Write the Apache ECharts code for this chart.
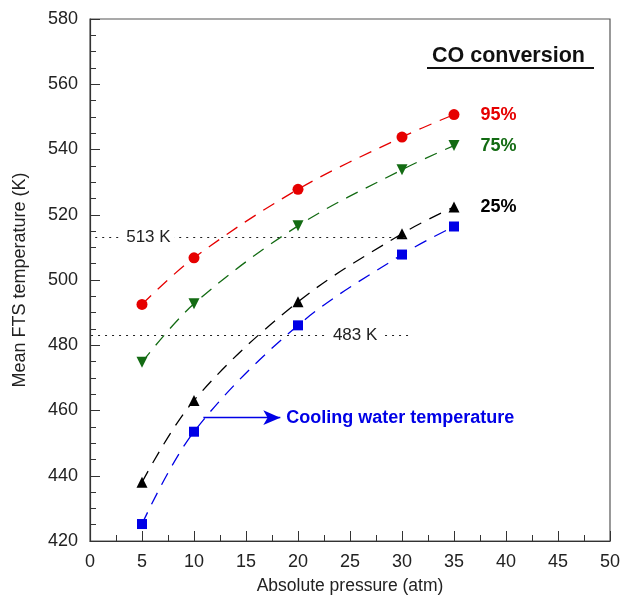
<!DOCTYPE html>
<html>
<head>
<meta charset="utf-8">
<script src="https://cdn.jsdelivr.net/npm/echarts@6/dist/echarts.min.js"></script>
<style>
  html, body { margin: 0; padding: 0; background: #fff; }
  #chart { width: 625px; height: 600px; }
</style>
</head>
<body>
<div id="chart"></div>
<script>
// pressure (atm)
var pressure = [5, 10, 20, 30, 35];
// mean FTS temperature (K) for each CO conversion
var conv95 = [492.5, 506.8, 527.8, 543.8, 550.7];
var conv75 = [474.8, 492.7, 516.6, 533.8, 541.2];
var conv25 = [438.0, 463.1, 493.3, 514.2, 522.4];
var cooling = [425.2, 453.5, 486.1, 507.8, 516.4];
var refTemps = [513, 483];

var chart = echarts.init(document.getElementById('chart'));
var font = 'Liberation Sans, Arial, sans-serif';

function pairs(ys) {
  return pressure.map(function (x, i) { return [x, ys[i]]; });
}

function curve(name, ys, color, symbol, rotate, endText) {
  var data = pairs(ys);
  if (endText) {
    data[data.length - 1] = {
      value: data[data.length - 1],
      label: {
        show: true, position: 'right', distance: 21,
        formatter: endText, color: color,
        fontFamily: font, fontSize: 18, fontWeight: 'bold'
      }
    };
  }
  return {
    name: name,
    type: 'line',
    smooth: 0.35,
    data: data,
    symbol: symbol,
    symbolSize: 11,
    symbolRotate: rotate,
    itemStyle: { color: color },
    lineStyle: { color: color, width: 1.3, type: [13, 9] },
    z: 3
  };
}

var blue = curve('cooling', cooling, '#0000e6', 'rect', 0, null);
blue.symbolSize = 10;
blue.markLine = {
  silent: true,
  symbol: ['none', 'arrow'],
  symbolSize: [11, 17],
  lineStyle: { color: '#0000e6', width: 1.3, type: 'solid' },
  label: {
    show: true, position: 'end', distance: 6,
    formatter: 'Cooling water temperature',
    color: '#0000e6', fontFamily: font, fontSize: 18, fontWeight: 'bold'
  },
  data: [[{ coord: [10.9, 457.8] }, { coord: [18.3, 457.8] }]]
};

var refLines = {
  name: 'ref',
  type: 'line',
  data: [],
  silent: true,
  markLine: {
    silent: true,
    symbol: ['none', 'none'],
    lineStyle: { color: '#222', width: 1.2, type: [2, 5] },
    data: [
      [{ coord: [0.5, refTemps[0]], label: { position: 'insideStart', distance: 27, formatter: '513 K' } },
       { coord: [30.3, refTemps[0]] }],
      [{ coord: [0.1, refTemps[1]], label: { position: 'insideEnd', distance: 29, formatter: '483 K' } },
       { coord: [30.8, refTemps[1]] }]
    ],
    label: {
      show: true, color: '#222', fontFamily: font, fontSize: 17,
      backgroundColor: '#fff', padding: [0, 4], verticalAlign: 'middle'
    }
  }
};

chart.setOption({
  animation: false,
  backgroundColor: '#fff',
  grid: {
    left: 90, right: 15, top: 19, bottom: 59,
    show: true, borderColor: '#555', borderWidth: 1.2
  },
  xAxis: {
    type: 'value',
    min: 0, max: 50, interval: 5,
    name: 'Absolute pressure (atm)',
    nameLocation: 'middle',
    nameGap: 36,
    nameTextStyle: { color: '#222', fontFamily: font, fontSize: 17.5 },
    axisLine: { lineStyle: { color: '#333', width: 1.2 } },
    axisTick: { inside: true, length: 10, lineStyle: { color: '#333' } },
    minorTick: { show: true, splitNumber: 2, length: 6, lineStyle: { color: '#333' } },
    axisLabel: { color: '#222', fontFamily: font, fontSize: 18, margin: 12 },
    splitLine: { show: false }
  },
  yAxis: {
    type: 'value',
    min: 420, max: 580, interval: 20,
    name: 'Mean FTS temperature (K)',
    nameLocation: 'middle',
    nameGap: 61,
    nameTextStyle: { color: '#222', fontFamily: font, fontSize: 18 },
    axisLine: { lineStyle: { color: '#333', width: 1.2 } },
    axisTick: { inside: true, length: 10, lineStyle: { color: '#333' } },
    minorTick: { show: true, splitNumber: 4, length: 6, lineStyle: { color: '#333' } },
    axisLabel: { color: '#222', fontFamily: font, fontSize: 18, margin: 12 },
    splitLine: { show: false }
  },
  graphic: [
    {
      type: 'text', left: 432, top: 45,
      style: { text: 'CO conversion', fill: '#111', font: 'bold 21.5px ' + font }
    },
    {
      type: 'line', shape: { x1: 427, y1: 68, x2: 594, y2: 68 },
      style: { stroke: '#111', lineWidth: 2 }
    }
  ],
  series: [
    refLines,
    curve('95%', conv95, '#e60000', 'circle', 0, '95%'),
    curve('75%', conv75, '#136b13', 'triangle', 180, '75%'),
    curve('25%', conv25, '#000000', 'triangle', 0, '25%'),
    blue
  ]
});
</script>
</body>
</html>
